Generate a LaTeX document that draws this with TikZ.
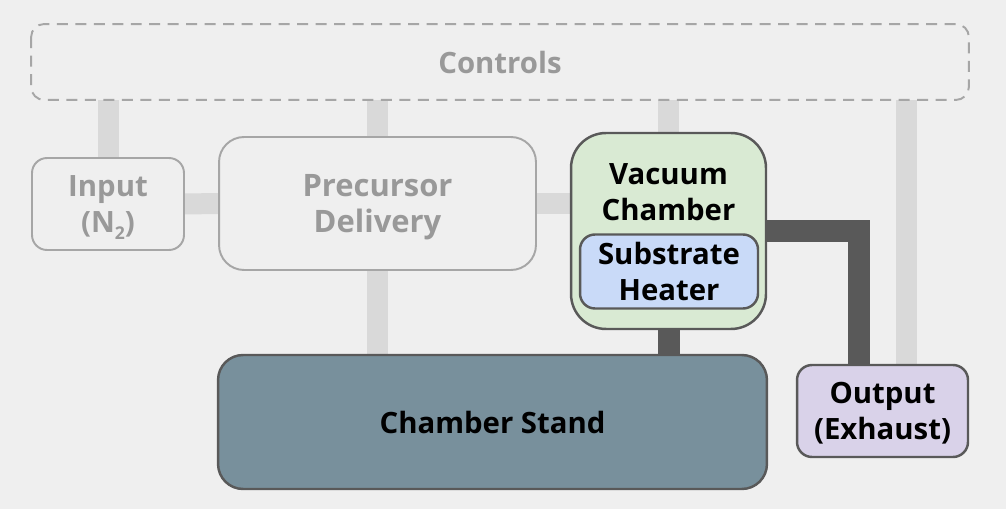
\documentclass[tikz,border=0pt]{standalone}
\usepackage{fontspec}
\setmainfont{Open Sans}
\usetikzlibrary{positioning}
\definecolor{pagebg}{HTML}{EFEFEF}
\definecolor{linkgray}{HTML}{D9D9D9}
\definecolor{ductgray}{HTML}{595959}
\definecolor{mutedgray}{HTML}{A6A6A6}
\definecolor{mutedtext}{HTML}{999999}
\definecolor{vacgreen}{HTML}{D9EAD3}
\definecolor{heatblue}{HTML}{C9DAF8}
\definecolor{standslate}{HTML}{78909C}
\definecolor{outlilac}{HTML}{D9D2E9}
\pgfdeclarelayer{back}
\pgfdeclarelayer{links}
\pgfsetlayers{back,links,main}

\begin{document}
\begin{tikzpicture}[x=0.02cm,y=-0.02cm,
  label font/.style={font=\fontsize{16.7}{20.4}\selectfont\bfseries},
  mutedbox/.style={draw=mutedgray,line width=1.1pt,fill=pagebg,text=mutedtext,align=center,label font,inner sep=0pt,text depth=0pt},
  mainbox/.style={draw=ductgray,line width=1.4pt,text=black,align=center,label font,inner sep=0pt,text depth=0pt},
  link/.style={linkgray,line width=0.42cm},
  duct/.style={ductgray,line width=0.44cm}]
\begin{pgfonlayer}{back}
\fill[pagebg] (0,0) rectangle (1006,509);
\end{pgfonlayer}
\useasboundingbox (0,0) rectangle (1006,509);

% blocks
\node[mutedbox,draw=none,fill=none,minimum width=18.72cm,minimum height=1.48cm] (controls) at (500,62) {Controls};
\draw[mutedgray,line width=1.1pt,dash pattern=on 0.22cm off 0.15cm,rounded corners=0.26cm] (controls.north west) rectangle (controls.south east);
\node[mutedbox,minimum width=3.04cm,minimum height=1.84cm,rounded corners=0.3cm] (input) at (108,204) {Input\\(N\raisebox{-0.45ex}{\fontsize{10}{10}\selectfont 2})};
\node[mutedbox,font=\fontsize{17.6}{21}\selectfont\bfseries,minimum width=6.34cm,minimum height=2.66cm,rounded corners=0.5cm] (precursor) at (377.5,203.5) {Precursor\\Delivery};
\node[mainbox,fill=vacgreen,minimum width=3.9cm,minimum height=3.92cm,rounded corners=0.7cm] (vacuum) at (668.5,231) {};
\node[label font,align=center,inner sep=0pt] (vactitle) at (668.5,192) {Vacuum\\Chamber};
\node[mainbox,fill=heatblue,minimum width=3.56cm,minimum height=1.48cm,rounded corners=0.3cm] (heater) at (669,271.5) {Substrate\\Heater};
\node[mainbox,fill=standslate,minimum width=10.98cm,minimum height=2.68cm,rounded corners=0.5cm] (stand) at (492.5,422) {Chamber Stand};
\node[mainbox,fill=outlilac,minimum width=3.42cm,minimum height=1.84cm,rounded corners=0.3cm] (output) at (882.5,411) {Output\\(Exhaust)};

% connectors
\begin{pgfonlayer}{links}
\draw[link] (input.north) -- (input.north |- controls.south);
\draw[link] (precursor.north) -- (precursor.north |- controls.south);
\draw[link] (vacuum.north) -- (vacuum.north |- controls.south);
\draw[link] ([xshift=0.47cm]output.north) -- ([xshift=0.47cm]output.north |- controls.south);
\draw[link] (input.east) -- (precursor.west);
\draw[link] (precursor.east) -- (precursor.east -| vacuum.west);
\draw[link] (precursor.south) -- (precursor.south |- stand.north);
\draw[duct] (vacuum.south) -- (vacuum.south |- stand.north);
\draw[duct] (vacuum.east) -| ([xshift=-0.47cm]output.north);
\end{pgfonlayer}
\end{tikzpicture}
\end{document}
